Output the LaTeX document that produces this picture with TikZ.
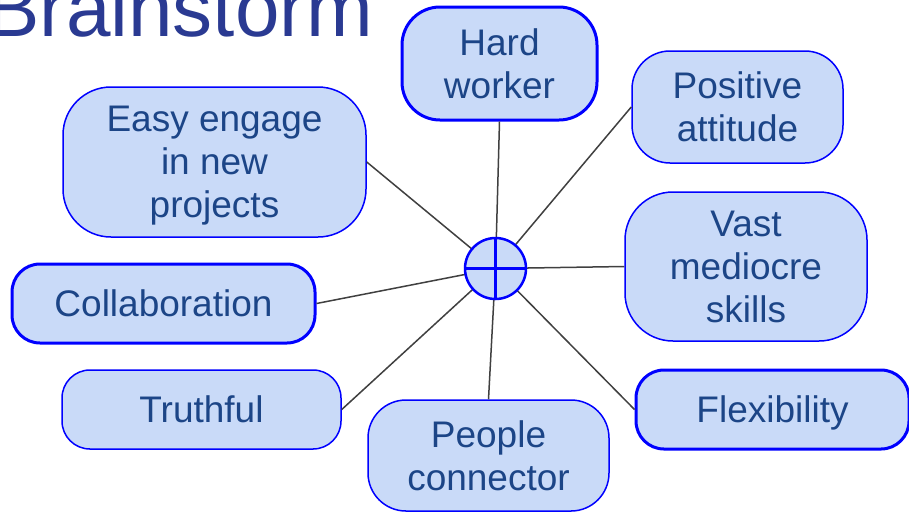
\documentclass[tikz,border=0pt]{standalone}
\usepackage{fontspec}
\setmainfont{Liberation Sans}
\definecolor{boxfill}{HTML}{C9DAF8}
\definecolor{boxline}{HTML}{0000FF}
\definecolor{boxtext}{HTML}{1C4587}
\definecolor{titletext}{RGB}{42,58,146}
\definecolor{linkline}{HTML}{404040}
\tikzset{
  idea/.style={draw=boxline, fill=boxfill, text=boxtext, line width=1.5pt,
    inner sep=0pt, align=center, text depth=0pt,
    font=\fontsize{37}{43}\selectfont},
  thickidea/.style={idea, line width=3pt},
  link/.style={draw=linkline, line width=1.5pt},
}
\begin{document}
\begin{tikzpicture}[x=1pt,y=-1pt]
\useasboundingbox (0,0) rectangle (909,515);
\clip (0,0) rectangle (909,515);
\fill[white] (0,0) rectangle (909,515);
\node[anchor=base west, text=titletext, font=\fontsize{80}{92}\selectfont, inner sep=0pt] (title) at (-14,36) {Brainstorm};

\node[thickidea, minimum width=195pt, minimum height=113pt, rounded corners=38pt] (hw) at (499.5,63.5) {Hard\\worker};
\node[idea, minimum width=211pt, minimum height=112pt, rounded corners=38pt] (pa) at (737.5,107) {Positive\\attitude};
\node[idea, minimum width=303pt, minimum height=150pt, rounded corners=48pt] (ee) at (214.5,162) {Easy engage\\in new\\projects};
\node[idea, minimum width=242pt, minimum height=149pt, rounded corners=48pt] (vm) at (746,266.5) {Vast\\mediocre\\skills};
\node[thickidea, minimum width=303pt, minimum height=79pt, rounded corners=28pt] (co) at (163.5,303.5) {Collaboration};
\node[idea, minimum width=279pt, minimum height=79pt, rounded corners=28pt] (tr) at (201.5,409.5) {Truthful};
\node[idea, minimum width=241pt, minimum height=111pt, rounded corners=38pt] (pc) at (488.5,455.5) {People\\connector};
\node[thickidea, minimum width=273pt, minimum height=79pt, rounded corners=28pt] (fl) at (772.5,409.5) {Flexibility};

\coordinate (c) at (495.5,268.5);
\draw[link] (c) -- (hw.south);
\draw[link] (c) -- (pa.west);
\draw[link] (c) -- (ee.east);
\draw[link] (c) -- (vm.west);
\draw[link] (c) -- (co.east);
\draw[link] (c) -- (tr.east);
\draw[link] (c) -- (pc.north);
\draw[link] (c) -- (fl.west);

\node[circle, draw=boxline, fill=boxfill, line width=2.5pt, minimum size=61pt, inner sep=0pt] (hub) at (c) {};
\draw[draw=boxline, line width=2.5pt] (hub.north) -- (hub.south);
\draw[draw=boxline, line width=2.5pt] (hub.west) -- (hub.east);
\end{tikzpicture}
\end{document}
